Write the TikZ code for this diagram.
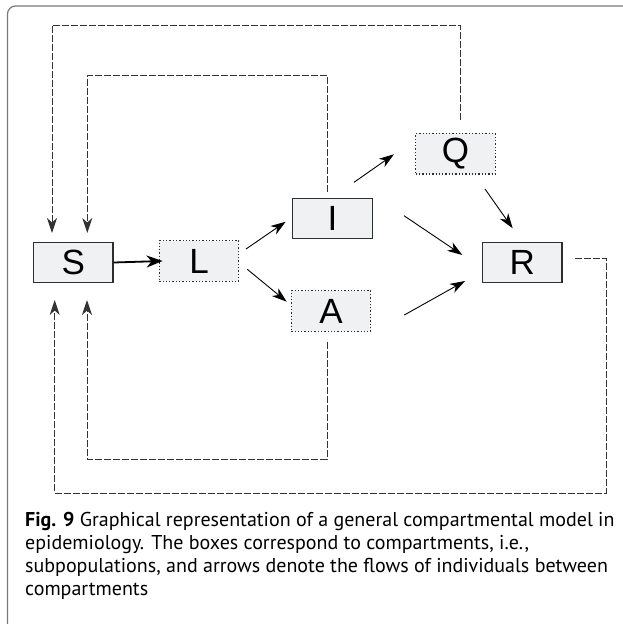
\documentclass[tikz,border=0pt]{standalone}
\usepackage{fontspec}
\setmainfont{Liberation Sans}
\newfontfamily\capfont{PT Sans}
\usetikzlibrary{arrows.meta,calc}
\definecolor{boxfill}{HTML}{F0F1F3}
\definecolor{boxline}{HTML}{2E2E2E}
\definecolor{frameline}{HTML}{7A7A7A}
\tikzset{
  comp/.style={draw=boxline, fill=boxfill, line width=1.3pt, minimum width=79.5pt, minimum height=40.5pt, inner sep=0pt, font=\fontsize{35}{40}\selectfont},
  compdot/.style={comp, dotted, line width=1.4pt},
  arr/.style={line width=0.9pt, -{Stealth[length=15pt, width=10pt, inset=4.5pt]}},
  feed/.style={line width=1pt, draw=black!80, dash pattern=on 7pt off 2pt, -{Stealth[length=15pt, width=10pt, inset=4.5pt]}},
}
\begin{document}
\begin{tikzpicture}[x=1pt, y=-1pt]
\useasboundingbox (0,0) rectangle (623,624);
% frame
\draw[frameline, line width=1.2pt, rounded corners=8pt] (7.5,630) -- (7.5,6) -- (630,6);
% boxes
\node[comp] (S) at (73.3,262.5) {S};
\node[compdot] (L) at (199,261) {L};
\node[comp] (I) at (332.5,218.5) {I};
\node[compdot] (A) at (331,311) {A};
\node[compdot] (Q) at (455.5,153.7) {Q};
\node[comp] (R) at (522.3,262.5) {R};
% flows
\draw[line width=1.8pt, -{Stealth[length=16pt, width=12pt, inset=5pt]}] (S.east) -- ($(L.west)+(4,0)$);
\draw[arr] ($(L)+(47,-12)$) -- ($(I)+(-46.8,3.2)$);
\draw[arr] ($(L)+(48.3,8.3)$) -- ($(A)+(-44.3,-9.3)$);
\draw[arr] ($(I)+(21.5,-36.2)$) -- ($(Q)+(-61.5,0.6)$);
\draw[arr] ($(Q)+(29.5,35.3)$) -- ($(R)+(-9.6,-34.2)$);
\draw[arr] ($(I)+(71.5,-2.8)$) -- ($(R)+(-60,-7.5)$);
\draw[arr] ($(A)+(73.3,4)$) -- ($(R)+(-57.3,18.5)$);
% feedback
\coordinate (q0) at ($(Q)+(4.8,-33.7)$);
\coordinate (i0) at ($(I)+(-5.5,-26.8)$);
\coordinate (a0) at ($(A)+(-4,30.7)$);
\coordinate (r0) at ($(R)+(52.7,-4.5)$);
\coordinate (s1) at ($(S)+(-21.3,-29.5)$);
\coordinate (s2) at ($(S)+(14,-29.5)$);
\coordinate (s3) at ($(S)+(13.7,37.5)$);
\coordinate (s4) at ($(S)+(-18.6,37.5)$);
\draw[feed] (q0) -- (q0 |- 0,25) -- (s1 |- 0,25) -- (s1);
\draw[feed] (i0) -- (i0 |- 0,75) -- (s2 |- 0,75) -- (s2);
\draw[feed] (a0) -- (a0 |- 0,459) -- (s3 |- 0,459) -- (s3);
\draw[feed] (r0) -- (606,0 |- r0) -- (606,493) -- (s4 |- 0,493) -- (s4);
% caption
\node[anchor=base west, inner sep=0pt] (cap) at (25,526)
{\parbox[t]{598pt}{\raggedright\capfont\fontsize{20}{23}\selectfont
\textbf{Fig. 9} Graphical representation of a general compartmental model in\\
epidemiology. The boxes correspond to compartments, i.e.,\\
subpopulations, and arrows denote the flows of individuals between\\
compartments}};
\end{tikzpicture}
\end{document}
